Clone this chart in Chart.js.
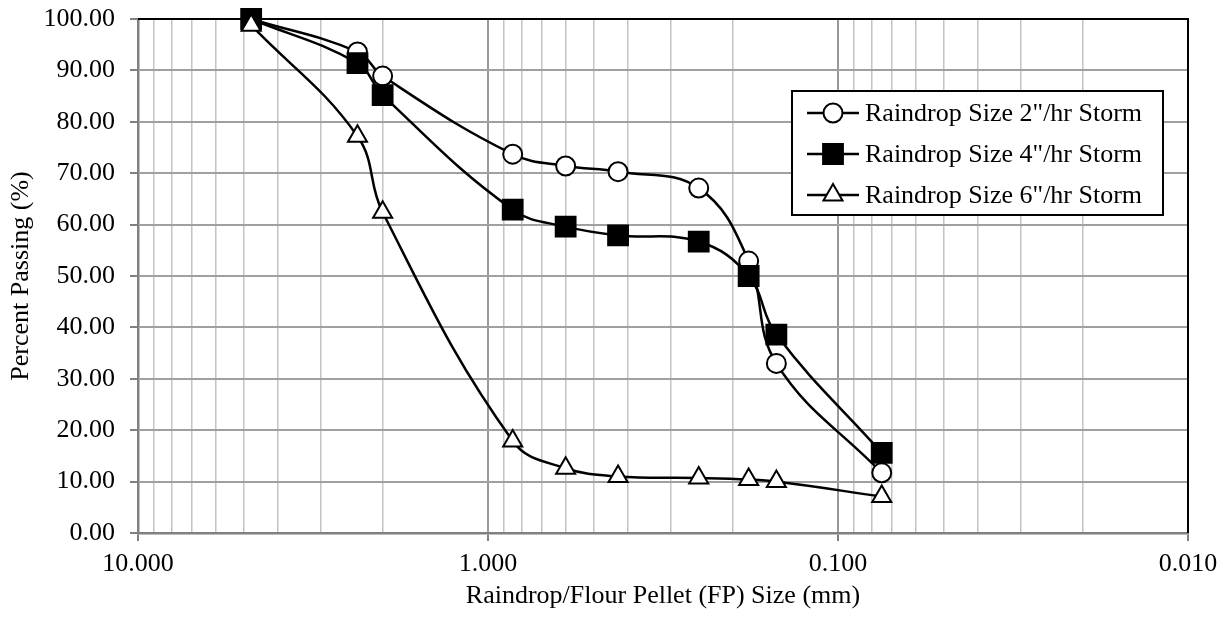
<!DOCTYPE html>
<html>
<head>
<meta charset="utf-8">
<script src="https://cdn.jsdelivr.net/npm/chart.js@4.4.1/dist/chart.umd.min.js"></script>
<style>
  html, body { margin: 0; padding: 0; background: #fff; }
  #wrap { width: 1225px; height: 620px; }
</style>
</head>
<body>
<div id="wrap"><canvas id="grafico"></canvas></div>
<script>
// sieve sizes (mm)
const sizes = [4.75, 2.36, 2.0, 0.85, 0.6, 0.425, 0.25, 0.18, 0.15, 0.075];
const storm2 = [100, 93.6, 88.9, 73.7, 71.4, 70.3, 67.1, 52.9, 33.0, 11.7];
const storm4 = [100, 91.4, 85.2, 62.9, 59.6, 57.9, 56.7, 50.0, 38.6, 15.6];
const storm6 = [98.8, 77.2, 62.4, 17.9, 12.6, 11.0, 10.7, 10.4, 10.0, 7.1];
const seriesNames = ['Raindrop Size 2"/hr Storm', 'Raindrop Size 4"/hr Storm', 'Raindrop Size 6"/hr Storm'];
const xMajorTicks = [10, 1, 0.1, 0.01];
const yTickStep = 10;

const FONT = '"Liberation Serif", "Times New Roman", serif';
const toPts = vals => sizes.map((s, i) => ({ x: s, y: vals[i] }));
const isMajor = v => xMajorTicks.some(m => Math.abs(m - v) / m < 1e-6);

function serie(label, vals, style, fill, radius, order) {
  return {
    label: label,
    data: toPts(vals),
    borderColor: '#000',
    borderWidth: 2.5,
    tension: 0.4,
    clip: false,
    pointStyle: style,
    pointRadius: radius,
    pointHoverRadius: radius,
    pointBackgroundColor: fill,
    pointBorderColor: '#000',
    pointBorderWidth: 2,
    order: order
  };
}

// black top/right frame + boxed legend inside plot
const marco = {
  id: 'marco',
  beforeDatasetsDraw(chart) {
    const { ctx, chartArea: a } = chart;
    ctx.save();
    ctx.strokeStyle = '#000';
    ctx.lineWidth = 2;
    ctx.beginPath();
    ctx.moveTo(a.left, a.top);
    ctx.lineTo(a.right, a.top);
    ctx.lineTo(a.right, a.bottom);
    ctx.stroke();
    ctx.restore();
  },
  afterDraw(chart) {
    const { ctx, chartArea: a } = chart;
    const x0 = a.right - 25, y0 = a.top + 72, w = 371, h = 124;
    ctx.save();
    ctx.fillStyle = '#fff';
    ctx.fillRect(x0 - w, y0, w, h);
    ctx.strokeStyle = '#000';
    ctx.lineWidth = 2;
    ctx.strokeRect(x0 - w, y0, w, h);
    chart.data.datasets.forEach((ds, k) => {
      const y = y0 + 22 + k * 41;
      const lx = x0 - w + 15;
      ctx.strokeStyle = '#000';
      ctx.lineWidth = 2.5;
      ctx.beginPath();
      ctx.moveTo(lx, y);
      ctx.lineTo(lx + 52, y);
      ctx.stroke();
      ctx.fillStyle = ds.pointBackgroundColor;
      ctx.strokeStyle = '#000';
      ctx.lineWidth = 2;
      Chart.helpers.drawPoint(ctx, {
        pointStyle: ds.pointStyle,
        radius: ds.pointRadius,
        borderWidth: 2,
        rotation: 0
      }, lx + 26, y);
      ctx.fillStyle = '#000';
      ctx.font = '26px ' + FONT;
      ctx.textBaseline = 'middle';
      ctx.textAlign = 'left';
      ctx.fillText(ds.label, lx + 58, y + 1);
    });
    ctx.restore();
  }
};

const ctxG = document.getElementById('grafico').getContext('2d');
new Chart(ctxG, {
  type: 'line',
  data: {
    datasets: [
      serie(seriesNames[0], storm2, 'circle', '#fff', 9.5, 3),
      serie(seriesNames[1], storm4, 'rect', '#000', 14, 2),
      serie(seriesNames[2], storm6, 'triangle', '#fff', 11, 1)
    ]
  },
  options: {
    responsive: true,
    maintainAspectRatio: false,
    animation: false,
    layout: { autoPadding: false, padding: { left: 0, right: 37, top: 19, bottom: 0 } },
    plugins: {
      legend: { display: false },
      tooltip: { enabled: false }
    },
    scales: {
      x: {
        type: 'logarithmic',
        reverse: true,
        min: 0.01,
        max: 10,
        afterFit: s => { s.height = 87; s.paddingLeft = 0; s.paddingRight = 0; },
        afterBuildTicks: s => {
          const t = [];
          for (let d = 0; d < xMajorTicks.length - 1; d++) {
            const base = xMajorTicks[d + 1];
            for (let m = 10; m >= 1; m--) {
              if (m === 10 && d > 0) continue;
              t.push({ value: +(base * m).toPrecision(6) });
            }
          }
          s.ticks = t;
        },
        ticks: {
          autoSkip: false,
          maxRotation: 0,
          padding: 8,
          color: '#000',
          font: { family: FONT, size: 26 },
          callback: v => isMajor(v) ? v.toFixed(3) : ''
        },
        grid: {
          color: c => isMajor(c.tick.value) ? '#999999' : '#c4c4c4',
          lineWidth: c => isMajor(c.tick.value) ? 2 : 1.5,
          tickColor: c => isMajor(c.tick.value) ? '#808080' : 'rgba(0,0,0,0)',
          tickLength: 8
        },
        border: { color: '#808080', width: 2.5 },
        title: {
          display: true,
          text: 'Raindrop/Flour Pellet (FP) Size (mm)',
          color: '#000',
          font: { family: FONT, size: 26 },
          padding: { top: 0, bottom: 8 }
        }
      },
      y: {
        min: 0,
        max: 100,
        afterFit: s => { s.width = 138; s.paddingTop = 0; s.paddingBottom = 0; },
        ticks: {
          stepSize: yTickStep,
          padding: 15,
          color: '#000',
          font: { family: FONT, size: 26 },
          callback: v => v.toFixed(2)
        },
        grid: {
          color: '#a0a0a0',
          lineWidth: 2,
          tickColor: '#808080',
          tickLength: 8
        },
        border: { color: '#808080', width: 2.5 },
        title: {
          display: true,
          text: 'Percent Passing (%)',
          color: '#000',
          font: { family: FONT, size: 26 },
          padding: { top: 6, bottom: 0 }
        }
      }
    }
  },
  plugins: [marco]
});
</script>
</body>
</html>
